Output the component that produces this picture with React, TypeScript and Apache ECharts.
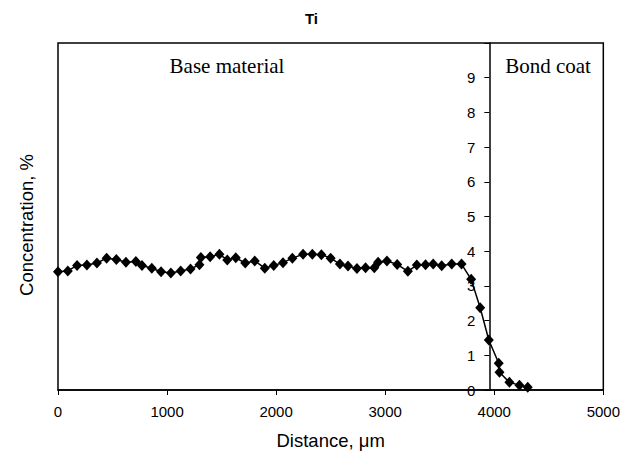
import React, { useEffect, useRef } from "react";
import * as echarts from "echarts";

const distances = [0, 90, 175, 265, 357, 446, 535, 623, 714, 770, 860, 945, 1035, 1125, 1215, 1297, 1310, 1395, 1480, 1552, 1630, 1717, 1804, 1896, 1978, 2063, 2149, 2247, 2332, 2415, 2500, 2585, 2659, 2741, 2820, 2900, 2935, 3016, 3110, 3208, 3290, 3370, 3440, 3518, 3610, 3700, 3788, 3871, 3950, 4041, 4048, 4139, 4231, 4307];
const concentrations = [3.41, 3.43, 3.59, 3.6, 3.66, 3.8, 3.76, 3.68, 3.7, 3.59, 3.51, 3.41, 3.37, 3.43, 3.49, 3.61, 3.82, 3.84, 3.91, 3.75, 3.81, 3.66, 3.72, 3.51, 3.59, 3.67, 3.8, 3.91, 3.91, 3.9, 3.8, 3.63, 3.57, 3.5, 3.52, 3.52, 3.68, 3.72, 3.62, 3.42, 3.6, 3.61, 3.63, 3.58, 3.63, 3.63, 3.19, 2.37, 1.44, 0.77, 0.51, 0.22, 0.14, 0.08];
const interfaceDistance = 3950;
const xTicks = [0, 1000, 2000, 3000, 4000, 5000];
const yTicks = [0, 1, 2, 3, 4, 5, 6, 7, 8, 9];

export default function App() {
  const ref = useRef<HTMLDivElement>(null);
  useEffect(() => {
    if (!ref.current) return;
    const chart = echarts.init(ref.current, undefined, { renderer: "svg" });
    const left = 58, right = 19, top = 43, bottom = 63;
    const plotW = 623 - left - right;
    const axisOffset = -((interfaceDistance - xTicks[0]) / (xTicks[xTicks.length - 1] - xTicks[0])) * plotW;
    chart.setOption({
      animation: false,
      backgroundColor: "#fff",
      title: {
        text: "Ti",
        left: "center",
        top: 6,
        textStyle: { fontFamily: "Liberation Sans, Arial", fontSize: 15, fontWeight: "bold", color: "#000" },
      },
      grid: { left, right, top, bottom, show: true, borderColor: "#000", borderWidth: 1.5, backgroundColor: "#fff" },
      xAxis: {
        type: "value",
        min: 0,
        max: 5000,
        interval: 1000,
        name: "Distance, μm",
        nameLocation: "middle",
        nameGap: 41,
        nameTextStyle: { fontFamily: "Liberation Sans, Arial", fontSize: 18.5, color: "#000" },
        axisLine: { show: true, lineStyle: { color: "#000", width: 1.5 } },
        axisTick: { show: true, length: 5, lineStyle: { color: "#000", width: 1 } },
        axisLabel: {
          fontFamily: "Liberation Sans, Arial",
          fontSize: 15,
          color: "#000",
          margin: 14,
          formatter: (v: number) => (xTicks.includes(v) ? String(v) : ""),
        },
        splitLine: { show: false },
      },
      yAxis: {
        type: "value",
        min: 0,
        max: 10,
        interval: 1,
        position: "left",
        offset: axisOffset,
        axisLine: { show: true, onZero: false, lineStyle: { color: "#000", width: 1.5 } },
        axisTick: { show: true, length: 5, lineStyle: { color: "#000", width: 1 } },
        axisLabel: {
          fontFamily: "Liberation Sans, Arial",
          fontSize: 15,
          color: "#000",
          margin: 14,
          formatter: (v: number) => (yTicks.includes(v) ? String(v) : ""),
        },
        splitLine: { show: false },
      },
      graphic: [
        {
          type: "text",
          x: 227,
          y: 66,
          style: { text: "Base material", font: "21px 'Liberation Serif', 'Times New Roman', serif", fill: "#000", textAlign: "center", textVerticalAlign: "middle" },
        },
        {
          type: "text",
          x: 548,
          y: 66,
          style: { text: "Bond coat", font: "21px 'Liberation Serif', 'Times New Roman', serif", fill: "#000", textAlign: "center", textVerticalAlign: "middle" },
        },
        {
          type: "text",
          x: 26,
          y: 225,
          rotation: Math.PI / 2,
          style: { text: "Concentration, %", font: "18.5px 'Liberation Sans', Arial, sans-serif", fill: "#000", textAlign: "center", textVerticalAlign: "middle" },
        },
      ],
      series: [
        {
          type: "line",
          data: distances.map((d, i) => [d, concentrations[i]]),
          symbol: "diamond",
          symbolSize: [10, 11],
          showSymbol: true,
          itemStyle: { color: "#000" },
          lineStyle: { color: "#000", width: 1.5 },
          z: 3,
        },
      ],
    });
    return () => chart.dispose();
  }, []);
  return <div ref={ref} style={{ width: 623, height: 455, position: "absolute", left: 0, top: 0 }} />;
}
